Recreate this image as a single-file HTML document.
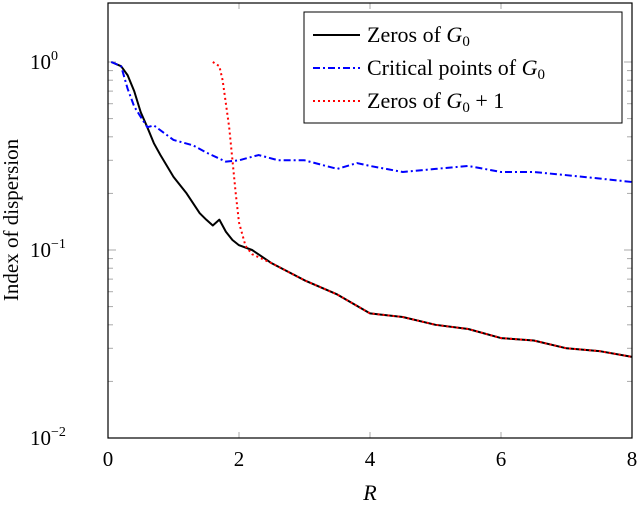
<!DOCTYPE html>
<html><head><meta charset="utf-8"><style>
html,body{margin:0;padding:0;background:#fff;}
svg text{font-family:"Liberation Serif",serif;}
</style></head><body>
<svg id="chart" width="640" height="504" viewBox="0 0 640 504">
<g id="grid"></g>
<g id="series"></g>
<rect x="108" y="3" width="524" height="435" fill="none" stroke="#000" stroke-width="1.2"/>
<text x="18" y="220" font-size="21" text-anchor="middle" transform="rotate(-90 18 220)">Index of dispersion</text>
<text x="370" y="500" font-size="22" font-style="italic" text-anchor="middle">R</text>
<g>
<rect x="304" y="12" width="318" height="111" fill="#fff" stroke="#000" stroke-width="1"/>
<g><line x1="313" y1="35" x2="360" y2="35" stroke="#000" stroke-width="2"/><text x="367" y="42" font-size="22">Zeros of <tspan font-style="italic">G</tspan><tspan font-size="15" dy="4">0</tspan></text></g>
<g><line x1="313" y1="68" x2="360" y2="68" stroke="#0000ff" stroke-width="2" stroke-dasharray="7,3,2,3"/><text x="367" y="75" font-size="22">Critical points of <tspan font-style="italic">G</tspan><tspan font-size="15" dy="4">0</tspan></text></g>
<g><line x1="313" y1="101" x2="360" y2="101" stroke="#ff0000" stroke-width="2" stroke-dasharray="2,3"/><text x="367" y="108" font-size="22">Zeros of <tspan font-style="italic">G</tspan><tspan font-size="15" dy="4">0</tspan><tspan dy="-4"> + 1</tspan></text></g>
</g>
</svg>
<script>
const xTicks=[0,2,4,6,8];
const yDecades=[0,-1,-2];
const zerosR=[0.05,0.2,0.3,0.4,0.5,0.6,0.7,0.8,1.0,1.2,1.4,1.5,1.6,1.7,1.8,1.9,2.0,2.2,2.5,3.0,3.5,4.0,4.5,5.0,5.5,6.0,6.5,7.0,7.5,8.0];
const zerosV=[1.0,0.95,0.85,0.7,0.54,0.45,0.37,0.32,0.245,0.2,0.157,0.145,0.135,0.145,0.125,0.113,0.106,0.1,0.085,0.069,0.058,0.046,0.044,0.040,0.038,0.034,0.033,0.030,0.029,0.027];
const critR=[0.05,0.2,0.3,0.4,0.5,0.6,0.7,1.0,1.3,1.5,1.8,2.0,2.3,2.6,3.0,3.5,3.8,4.0,4.5,5.0,5.5,6.0,6.5,7.0,7.5,8.0];
const critV=[1.0,0.95,0.72,0.58,0.51,0.45,0.46,0.385,0.36,0.33,0.295,0.3,0.32,0.3,0.3,0.27,0.29,0.28,0.26,0.27,0.28,0.26,0.26,0.25,0.24,0.23];
const plusR=[1.6,1.7,1.75,1.8,1.85,1.9,1.95,2.0,2.1,2.2,2.5,3.0,3.5,4.0,4.5,5.0,5.5,6.0,6.5,7.0,7.5,8.0];
const plusV=[1.0,0.95,0.8,0.6,0.45,0.3,0.2,0.14,0.105,0.095,0.085,0.069,0.058,0.046,0.044,0.040,0.038,0.034,0.033,0.030,0.029,0.027];
const NS='http://www.w3.org/2000/svg';
const X=v=>108+v*65.5;
const Y=v=>62-Math.log10(v)*188;
const grid=document.getElementById('grid'),ser=document.getElementById('series');
function mk(p,tag,attrs){const e=document.createElementNS(NS,tag);for(const k in attrs)e.setAttribute(k,attrs[k]);p.appendChild(e);return e;}
xTicks.forEach(t=>{
  const x=X(t);
  if(t>0&&t<8){
    const a=mk(grid,'line',{x1:x,x2:x,y1:438,y2:432,stroke:'#aaa'});
    
    
    const b=mk(grid,'line',{x1:x,x2:x,y1:3,y2:9,stroke:'#aaa'});
    
    
  }
  const l=mk(grid,'text',{x:x,y:466,'font-size':21,'text-anchor':'middle'});l.textContent=t;
  
  
});
yDecades.forEach(d=>{
  const y=Y(Math.pow(10,d));
  const l=mk(grid,'text',{x:30,y:y+7,'font-size':21});
  l.innerHTML=`10<tspan font-size="14" dy="-9">${d===0?'0':'\u2212'+(-d)}</tspan>`;
  
  
  if(d<0){
    for(let m=2;m<=9;m++){
      const yy=Y(m*Math.pow(10,d));
      [[108,113],[627,632]].forEach(([a,b])=>{
        const t=mk(grid,'line',{x1:a,x2:b,y1:yy,y2:yy,stroke:'#aaa'});
        
        
      });
    }
  }
  [[108,116],[624,632]].forEach(([a,b])=>{
    const t=mk(grid,'line',{x1:a,x2:b,y1:y,y2:y,stroke:'#aaa'});
    
    
  });
});
function line(R,V,color,dash,name){
  const p=mk(ser,'polyline',{points:R.map((r,i)=>X(r)+','+Y(V[i])).join(' '),fill:'none',stroke:color,'stroke-width':2,'stroke-dasharray':dash,'stroke-linejoin':'round'});
  
  
}
line(zerosR,zerosV,'#000','none','zeros-line');
line(critR,critV,'#0000ff','7,3,2,3','critical-points-line');
line(plusR,plusV,'#ff0000','2,3','zeros-plus-one-line');
</script>
</body></html>
